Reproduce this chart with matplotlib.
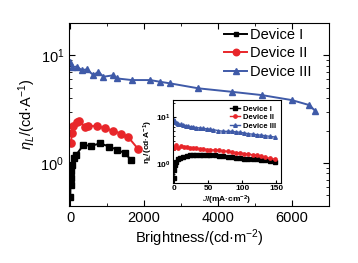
import numpy as np
import matplotlib
matplotlib.use('Agg')
import matplotlib.pyplot as plt
from matplotlib.ticker import MultipleLocator, LogLocator, NullFormatter

plt.rcParams['font.family'] = ['Liberation Sans', 'DejaVu Sans']
plt.rcParams['mathtext.fontset'] = 'custom'
plt.rcParams['mathtext.rm'] = 'Liberation Sans'
plt.rcParams['mathtext.it'] = 'Liberation Sans:italic'
plt.rcParams['mathtext.bf'] = 'Liberation Sans:bold'

labels = ['Device I', 'Device II', 'Device III']

# main panel: efficiency vs brightness
black_x = [5, 12, 22, 38, 60, 95, 165, 360, 570, 810, 1060, 1280, 1490, 1640]
black_y = [0.48, 0.62, 0.72, 0.84, 0.95, 1.12, 1.19, 1.47, 1.44, 1.52, 1.42, 1.32, 1.23, 1.07]

red_x = [20, 50, 80, 181, 243, 405, 495, 738, 946, 1170, 1370, 1576, 1846]
red_y = [1.52, 1.88, 2.2, 2.41, 2.46, 2.14, 2.2, 2.2, 2.09, 1.99, 1.87, 1.73, 1.34]

blue_x = [0, 46, 181, 316, 451, 630, 765, 900, 1170, 1262, 1668, 2162, 2432, 2703,
          3468, 4370, 5180, 5991, 6468, 6622]
blue_y = [8.67, 7.8, 7.8, 7.26, 7.37, 6.53, 7.0, 6.3, 6.5, 6.08, 5.87, 5.87, 5.66, 5.47,
          4.92, 4.57, 4.26, 3.83, 3.44, 3.05]

# inset: efficiency vs current density
j_black = [0, 0.5, 1.5, 3, 6, 9, 14, 19, 24, 28, 33, 38, 43, 48, 53, 60, 66, 72, 79,
           85, 91, 97, 103, 109, 116, 122, 128, 134, 141, 148]
in_black = [0.49, 0.74, 0.95, 1.12, 1.25, 1.32, 1.38, 1.44, 1.52, 1.56, 1.52, 1.51, 1.52,
            1.53, 1.56, 1.51, 1.48, 1.44, 1.40, 1.37, 1.35, 1.32, 1.30, 1.28, 1.26, 1.24,
            1.21, 1.18, 1.13, 1.07]
j_red = [0, 3, 6, 11, 15, 19, 24, 28, 33, 38, 43, 48, 53, 60, 66, 72, 79, 85, 91, 97,
         103, 109, 116, 122, 128, 134, 141, 148]
in_red = [2.17, 2.55, 2.17, 2.36, 2.3, 2.24, 2.2, 2.17, 2.14, 2.1, 2.05, 2.02, 1.99, 1.97,
          1.93, 1.9, 1.84, 1.78, 1.74, 1.69, 1.65, 1.61, 1.56, 1.51, 1.44, 1.37, 1.31, 1.26]
j_blue = [0, 1.5, 4, 6, 10, 14, 18, 21, 25, 28, 33, 38, 43, 48, 53, 58, 65, 72, 79, 85,
          91, 97, 103, 109, 116, 122, 128, 134, 141, 148]
in_blue = [8.8, 7.8, 7.3, 7.1, 6.9, 6.8, 6.5, 6.3, 6.2, 6.1, 5.95, 5.8, 5.7, 5.6, 5.45,
           5.35, 5.1, 4.94, 4.94, 4.94, 4.8, 4.7, 4.55, 4.39, 4.28, 4.17, 4.08, 3.98,
           3.85, 3.73]

red = '#e8262a'
blue = '#3f5aa8'

fig = plt.figure(figsize=(3.58, 2.63), dpi=100)
ax = fig.add_axes([0.193, 0.217, 0.726, 0.697])

ax.plot(black_x, black_y, '-s', color='black', lw=1.4, ms=3.8, label=labels[0])
ax.plot(red_x, red_y, '-o', color=red, lw=1.4, ms=5.2, label=labels[1])
ax.plot(blue_x, blue_y, '-^', color=blue, lw=1.4, ms=4.5, label=labels[2])

ax.set_yscale('log')
ax.set_xlim(-27, 7000)
ax.set_ylim(0.4, 20)
ax.xaxis.set_major_locator(MultipleLocator(2000))
ax.xaxis.set_minor_locator(MultipleLocator(1000))
ax.tick_params(which='both', direction='in', top=True, right=True, labelsize=10.5)
ax.tick_params(which='major', length=4)
ax.tick_params(which='minor', length=2)
ax.set_xlabel('Brightness/(cd·m$^{-2}$)', fontsize=10.5, labelpad=2)
ax.set_ylabel(r'$\eta_L$/(cd·A$^{-1}$)', fontsize=10.5, labelpad=2)
ax.legend(loc='upper left', bbox_to_anchor=(224 / 358, 1 - 28 / 263),
          bbox_transform=fig.transFigure, frameon=False, fontsize=10.5,
          borderpad=0, borderaxespad=0, handlelength=1.6, handletextpad=0.15,
          labelspacing=0.3, markerscale=0.9)

ins = fig.add_axes([0.482, 0.304, 0.303, 0.316])
ins.plot(j_black, in_black, '-s', color='black', lw=1.0, ms=2.4, label=labels[0])
ins.plot(j_red, in_red, '-o', color=red, lw=1.0, ms=2.4, label=labels[1])
ins.plot(j_blue, in_blue, '-^', color=blue, lw=1.0, ms=2.6, label=labels[2])
ins.set_yscale('log')
ins.set_xlim(-2, 157)
ins.set_ylim(0.39, 23)
ins.xaxis.set_major_locator(MultipleLocator(50))
ins.yaxis.set_minor_formatter(NullFormatter())
ins.tick_params(which='both', direction='in', labelsize=6, pad=1.5)
ins.tick_params(which='major', length=2.5)
ins.tick_params(which='minor', length=1.2)
for t in ins.get_xticklabels() + ins.get_yticklabels():
    t.set_fontweight('bold')
ins.set_xlabel(r'$\mathbf{\mathit{J}}$/(mA·cm$^{\mathbf{-2}}$)', fontsize=6,
               fontweight='bold', labelpad=1)
ins.set_ylabel(r'$\mathbf{\eta}_{\mathbf{L}}$/(cd·A$^{\mathbf{-1}}$)', fontsize=6,
               fontweight='bold', labelpad=1)
ins.legend(loc='upper right', frameon=False, prop={'size': 5.5, 'weight': 'bold'},
           borderpad=0.2, handlelength=1.4, handletextpad=0.3, labelspacing=0.15)

fig.savefig('out.png', dpi=100)
